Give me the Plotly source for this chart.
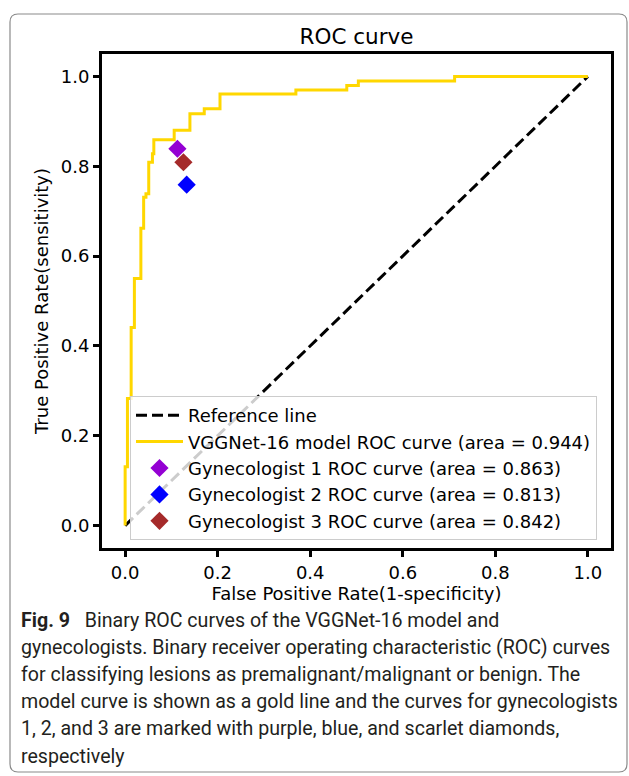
import plotly.graph_objects as go

# ---------------- data ----------------
ref_x = [0.0, 1.0]
ref_y = [0.0, 1.0]

vgg_fpr = [0.0, 0.0, 0.005, 0.005, 0.013, 0.013, 0.020, 0.020, 0.034, 0.034,
           0.040, 0.040, 0.045, 0.045, 0.051, 0.051, 0.059, 0.059, 0.062, 0.062,
           0.106, 0.106, 0.140, 0.140, 0.171, 0.171, 0.205, 0.205, 0.369, 0.369,
           0.479, 0.479, 0.504, 0.504, 0.712, 0.712, 1.0]
vgg_tpr = [0.0, 0.131, 0.131, 0.283, 0.283, 0.441, 0.441, 0.550, 0.550, 0.662,
           0.662, 0.731, 0.731, 0.739, 0.739, 0.809, 0.809, 0.828, 0.828, 0.859,
           0.859, 0.880, 0.880, 0.917, 0.917, 0.928, 0.928, 0.961, 0.961, 0.970,
           0.970, 0.980, 0.980, 0.990, 0.990, 1.0, 1.0]

gyn_names = ["Gynecologist 1 ROC curve (area = 0.863)",
             "Gynecologist 2 ROC curve (area = 0.813)",
             "Gynecologist 3 ROC curve (area = 0.842)"]
gyn_fpr = [0.113, 0.133, 0.126]
gyn_tpr = [0.839, 0.759, 0.809]
gyn_colors = ["#9400D3", "#0000FF", "#A52A2A"]

tick_vals = [0.0, 0.2, 0.4, 0.6, 0.8, 1.0]
tick_text = ["0.0", "0.2", "0.4", "0.6", "0.8", "1.0"]

caption_lines = [
    "<b>Fig. 9</b>\u2002 Binary ROC curves of the VGGNet-16 model and",
    "gynecologists. Binary receiver operating characteristic (ROC) curves",
    "for classifying lesions as premalignant/malignant or benign. The",
    "model curve is shown as a gold line and the curves for gynecologists",
    "1, 2, and 3 are marked with purple, blue, and scarlet diamonds,",
    "respectively",
]

# ---------------- geometry ----------------
W, H = 629, 776
L, R, T, B = 102, 611, 54, 548


def px(x):
    return (x - L) / (R - L)


def py(y):
    return (B - y) / (B - T)


FONT = "DejaVu Sans"

fig = go.Figure()
fig.add_trace(go.Scatter(x=ref_x, y=ref_y, mode="lines", name="Reference line",
                         line=dict(color="black", width=3, dash="11px,5px"),
                         legendgroup="a"))
fig.add_trace(go.Scatter(x=vgg_fpr, y=vgg_tpr, mode="lines",
                         name="VGGNet-16 model ROC curve (area = 0.944)",
                         line=dict(color="#FFD700", width=3), legendgroup="b"))
for i in range(3):
    fig.add_trace(go.Scatter(x=[gyn_fpr[i]], y=[gyn_tpr[i]], mode="markers",
                             name=gyn_names[i], legendgroup="g%d" % i,
                             marker=dict(symbol="diamond", size=14,
                                         color=gyn_colors[i], line=dict(width=0))))

axis_common = dict(range=[-0.05, 1.05], showgrid=False, zeroline=False,
                   showline=True, linecolor="black", linewidth=3, mirror=True,
                   ticks="outside", ticklen=6, tickwidth=2.5, tickcolor="black",
                   tickvals=tick_vals, ticktext=tick_text,
                   tickfont=dict(family=FONT, size=18, color="black"))

fig.update_xaxes(**axis_common,
                 title=dict(text="False Positive Rate(1-specificity)",
                            font=dict(family=FONT, size=18, color="black"),
                            standoff=6))
fig.update_yaxes(**axis_common,
                 title=dict(text="True Positive Rate(sensitivity)",
                            font=dict(family=FONT, size=18, color="black"),
                            standoff=8))

shapes = []
# outer rounded frame
x0, x1, y0, y1 = px(10), px(627), py(14), py(772)
rx, ry = 8 / (R - L), 8 / (B - T)
path = (f"M{x0+rx},{y0} L{x1-rx},{y0} Q{x1},{y0} {x1},{y0-ry} "
        f"L{x1},{y1+ry} Q{x1},{y1} {x1-rx},{y1} L{x0+rx},{y1} "
        f"Q{x0},{y1} {x0},{y1+ry} L{x0},{y0-ry} Q{x0},{y0} {x0+rx},{y0} Z")
shapes.append(dict(type="path", path=path, xref="paper", yref="paper",
                   line=dict(color="#8a8a8a", width=1.2), layer="below"))

annotations = []
for i, t in enumerate(caption_lines):
    annotations.append(dict(text=t, x=px(19), y=py(620 + 27.2 * i),
                            xref="paper", yref="paper", xanchor="left",
                            yanchor="middle", showarrow=False,
                            font=dict(family="Roboto", size=19.6, color="#231f20")))

fig.update_layout(
    width=W, height=H,
    margin=dict(l=L, r=W - R, t=T, b=H - B),
    paper_bgcolor="white", plot_bgcolor="white",
    title=dict(text="ROC curve", x=px(356.5), xref="paper", xanchor="center",
               y=1 - 36 / H, yanchor="middle",
               font=dict(family=FONT, size=21.5, color="black")),
    legend=dict(x=px(597), y=py(540), xanchor="right", yanchor="bottom",
                bgcolor="rgba(255,255,255,0.8)", bordercolor="#cccccc",
                borderwidth=1, font=dict(family=FONT, size=18, color="black"),
                itemwidth=47, tracegroupgap=0, traceorder="normal"),
    shapes=shapes, annotations=annotations,
    showlegend=True,
)

fig.write_html("out.html")
